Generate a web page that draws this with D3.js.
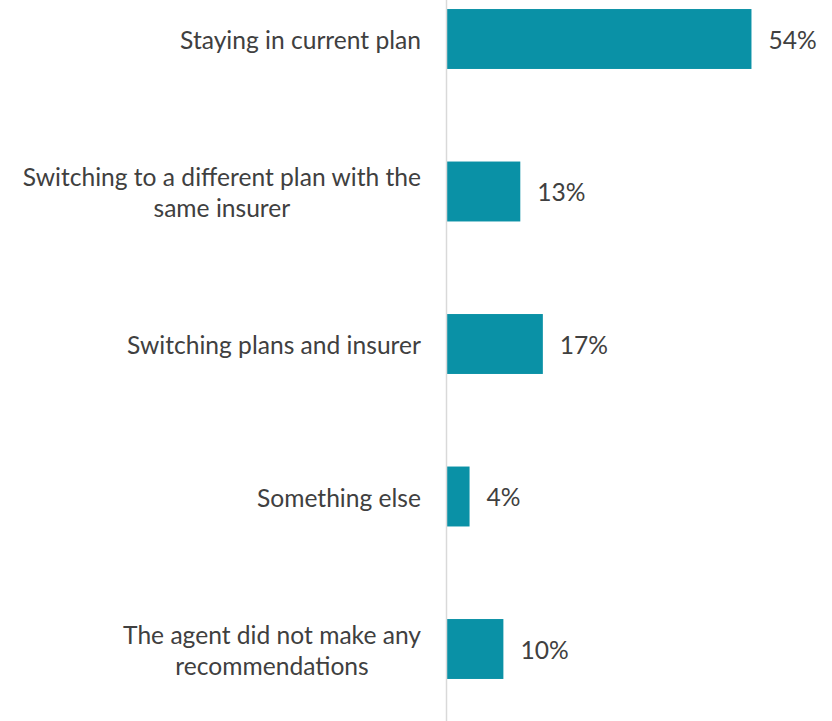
<!DOCTYPE html>
<html>
<head>
<meta charset="utf-8">
<script src="https://cdn.jsdelivr.net/npm/d3@7"></script>
<style>
  html, body { margin: 0; padding: 0; background: #ffffff; }
  svg { display: block; }
  text { font-family: "Lato", "Open Sans", sans-serif; fill: #404040; }
</style>
</head>
<body>
<svg id="chart" width="832" height="721"></svg>
<script>
// Survey responses: what the agent recommended
const categories = [
  ["Staying in current plan"],
  ["Switching to a different plan with the", "same insurer"],
  ["Switching plans and insurer"],
  ["Something else"],
  ["The agent did not make any", "recommendations"]
];
const values = [54, 13, 17, 4, 10];
const valueLabels = ["54%", "13%", "17%", "4%", "10%"];

const width = 832, height = 721;
const axisX = 447;
const fontSize = 24.6;
const lineHeight = 31;

const svg = d3.select("#chart");

const rows = categories.map((lines, i) => ({ key: i, lines, value: values[i], label: valueLabels[i] }));

const x = d3.scaleLinear().domain([0, 60]).range([axisX, axisX + 338.3]);
const y = d3.scaleBand()
  .domain(rows.map(d => d.key))
  .range([-37.25, 725.25])
  .paddingInner(0.607)
  .paddingOuter(0.3035);

// bars
svg.append("g").selectAll("rect")
  .data(rows)
  .join("rect")
  .attr("x", x(0))
  .attr("y", d => y(d.key))
  .attr("width", d => x(d.value) - x(0))
  .attr("height", y.bandwidth())
  .attr("fill", "#0A91A6");

// category axis line
svg.append("line")
  .attr("x1", axisX - 0.5).attr("x2", axisX - 0.5)
  .attr("y1", 0).attr("y2", height)
  .attr("stroke", "#d9d9d9")
  .attr("stroke-width", 1.5);

// category labels: block right-aligned at the axis, lines centred within the block
const labelRight = 421;
const labelG = svg.append("g");
rows.forEach(d => {
  const cy = y(d.key) + y.bandwidth() / 2;
  const t = labelG.append("text")
    .attr("font-size", fontSize)
    .attr("dominant-baseline", "central");
  const spans = d.lines.map((line, j) => t.append("tspan")
    .attr("y", cy + (j - (d.lines.length - 1) / 2) * lineHeight)
    .text(line));
  if (d.lines.length === 1) {
    t.attr("text-anchor", "end");
    spans.forEach(s => s.attr("x", labelRight));
  } else {
    const maxW = d3.max(spans, s => s.node().getComputedTextLength());
    t.attr("text-anchor", "middle");
    spans.forEach(s => s.attr("x", labelRight - maxW / 2));
  }
});

// value labels
svg.append("g").selectAll("text")
  .data(rows)
  .join("text")
  .attr("x", d => x(d.value) + 17)
  .attr("y", d => y(d.key) + y.bandwidth() / 2)
  .attr("dominant-baseline", "central")
  .attr("font-size", fontSize)
  .text(d => d.label);
</script>
</body>
</html>
